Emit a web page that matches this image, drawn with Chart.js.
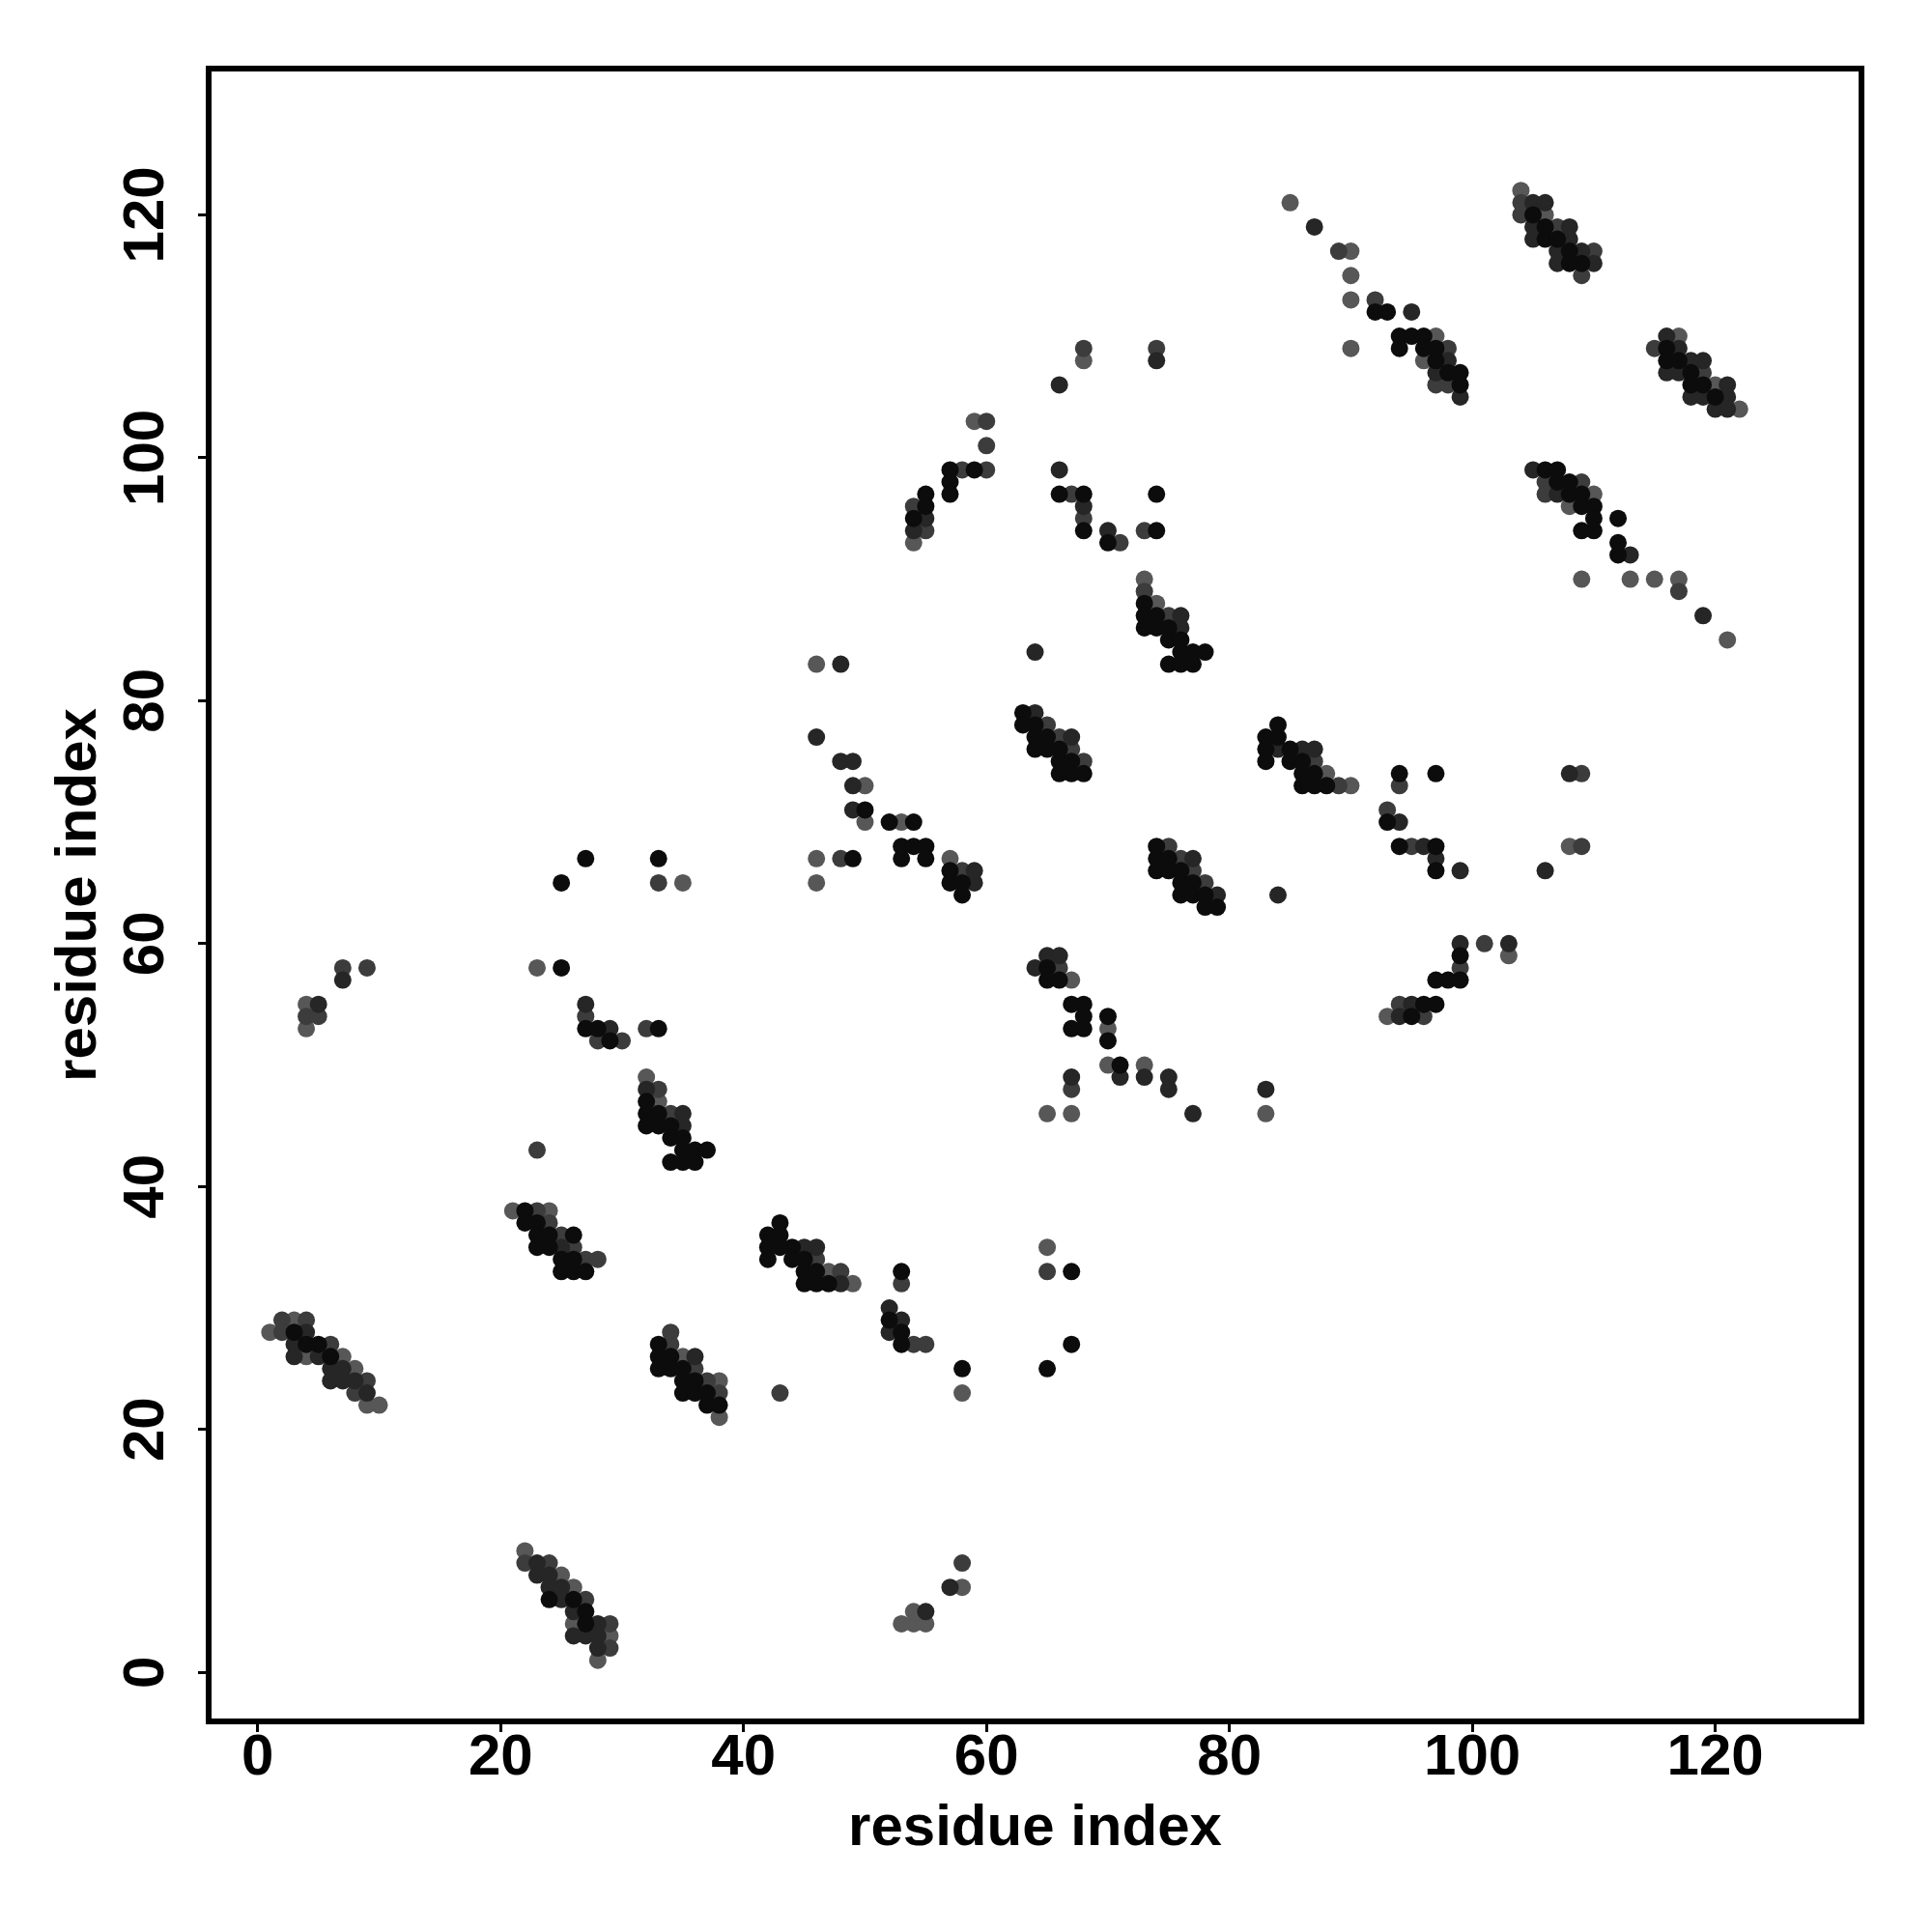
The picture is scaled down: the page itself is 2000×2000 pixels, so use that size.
<!DOCTYPE html>
<html>
<head>
<meta charset="utf-8">
<script src="https://cdn.jsdelivr.net/npm/chart.js@4.4.0/dist/chart.umd.min.js"></script>
<style>
  html, body { margin: 0; padding: 0; background: #fff; }
</style>
</head>
<body>
<canvas id="contactMap" width="2000" height="2000"></canvas>
<script>
// residue pairs [i, j] in contact, grouped by how dark the dot is
const blackPts = [
  [3,28],[4,27],[5,27],[6,26],
  [24,6],[26,6],[27,5],[27,4],
  [22,38],[22,37],[23,37],[23,36],[24,36],[26,36],[23,35],[24,35],[25,34],[26,34],[25,33],[26,33],[27,33],
  [32,47],[32,46],[33,46],[32,45],[33,45],[34,45],[34,44],[35,44],[35,43],[36,43],[37,43],[34,42],[35,42],[36,42],
  [25,58],[25,65],[27,67],[33,67],[27,53],[28,53],[29,52],[33,53],
  [43,37],[42,36],[43,36],[42,35],[43,35],[44,35],[42,34],[44,34],[45,34],[45,33],[46,33],[45,32],[46,32],[47,32],
  [52,29],[53,28],[53,27],[53,33],[58,25],[67,33],[67,27],[65,25],
  [33,27],[33,26],[34,26],[33,25],[34,25],[35,25],[35,24],[36,24],[35,23],[36,23],[37,23],[37,22],[38,22],
  [57,99],[59,99],[57,98],[57,97],[55,97],[55,96],[54,95],[50,71],[52,70],[54,70],[53,68],[54,68],[55,68],
  [53,67],[55,67],[57,66],[57,65],[58,65],[58,64],[49,67],
  [74,68],[74,67],[75,67],[74,66],[75,66],[76,66],[76,65],[77,65],[76,64],[77,64],[78,64],[78,63],[79,63],
  [65,58],[65,57],[66,57],[67,55],[68,55],[68,54],[67,53],[68,53],[70,54],[70,52],[71,50],
  [66,97],[68,97],[68,94],[70,93],[74,94],[74,97],
  [73,88],[73,87],[74,87],[73,86],[74,86],[75,86],[75,85],[76,85],[76,84],[77,84],[78,84],[75,83],[76,83],[77,83],
  [63,79],[63,78],[64,78],[64,77],[65,77],[64,76],[65,76],[66,76],[66,75],[67,75],[66,74],[67,74],[68,74],
  [84,78],[83,77],[84,77],[83,76],[85,76],[83,75],[85,75],[86,75],[86,74],[87,74],[86,73],[87,73],[88,73],
  [94,74],[93,70],[97,74],[94,68],[97,68],[97,66],
  [92,112],[93,112],[94,110],[95,110],[96,110],[94,109],[96,109],[97,109],[97,108],[98,107],[99,107],[99,106],
  [105,120],[106,119],[106,118],[107,118],[108,117],[108,116],[109,116],
  [116,109],[116,108],[117,108],[118,107],[118,106],[119,106],[120,105],
  [106,99],[107,99],[107,98],[108,98],[108,97],[109,97],[109,96],[110,96],[110,95],[112,95],[109,94],[110,94],
  [112,93],[112,92],
  [99,59],[97,57],[98,57],[99,57],[96,55],[97,55],[95,54]
];

const darkPts = [
  [4,28],[3,27],[3,26],[5,26],[6,25],[7,25],[6,24],[7,24],[8,24],[9,23],
  [23,9],[23,8],[24,8],[24,7],[25,7],[25,6],[26,5],[28,4],[26,3],[27,3],[28,3],[28,2],
  [25,35],[32,48],[35,46],[35,45],
  [5,55],[7,57],[27,55],[29,53],
  [45,35],[46,35],[48,32],[52,30],[53,29],[52,28],[36,26],[57,7],[55,5],
  [54,94],[55,95],[48,83],[46,77],[48,75],[49,75],[49,73],[49,71],[59,66],[59,65],
  [77,67],[79,64],[84,64],[64,58],[65,59],[66,59],[71,49],[73,49],[75,49],[75,48],[67,49],[77,46],[83,48],
  [66,99],[68,96],[70,94],[76,87],[76,86],[64,84],[64,79],[67,77],[84,76],[86,76],[87,76],[94,70],[96,68],
  [97,67],[99,66],[108,74],[106,66],
  [87,119],[95,112],[98,108],[97,107],[99,105],[74,108],[66,106],
  [105,121],[106,121],[105,119],[108,119],[105,118],[108,118],[107,117],[109,117],[107,116],[110,116],
  [116,110],[117,109],[118,108],[119,108],[116,107],[117,107],[121,106],[118,105],[119,105],[121,105],
  [120,104],[121,104],
  [105,99],[107,97],[113,92],[119,87],
  [99,60],[103,60],[95,55],[94,54]
];

const midPts = [
  [2,29],[4,29],[2,28],[6,27],[9,24],[8,23],
  [22,9],[24,9],[27,6],[29,4],[29,2],
  [23,38],[24,37],[25,36],[26,35],[27,34],[28,34],[33,48],[34,46],
  [4,54],[5,54],[7,58],[9,58],[33,65],[27,54],[28,52],[30,52],[32,53],[23,43],
  [46,34],[48,33],[54,27],[55,27],[53,32],[65,33],[34,28],[34,27],[36,25],[37,24],[38,23],[43,23],[58,9],
  [60,103],[60,101],[58,99],[60,99],[54,96],[55,94],[58,66],[48,67],
  [75,68],[76,67],[77,66],[78,65],[66,58],[67,48],
  [67,97],[68,95],[71,93],[73,94],[73,89],[75,87],[65,78],[66,77],[67,76],[68,75],[87,75],[89,73],[94,73],
  [93,71],[95,68],[109,74],[109,68],
  [89,117],[92,113],[98,109],[97,106],[98,106],[68,109],[74,109],
  [104,121],[104,120],[107,119],[110,117],[109,115],[115,109],[119,107],
  [106,98],[109,98],[106,97],[117,89],
  [101,60],[99,58],[94,55],[96,54]
];

const grayPts = [
  [1,28],[3,29],[4,26],[7,26],[8,25],[9,22],[10,22],
  [22,10],[25,8],[26,7],[26,4],[29,3],[28,1],
  [21,38],[24,38],[32,49],[33,47],
  [4,55],[4,53],[23,58],[35,65],
  [47,33],[49,32],[58,23],[65,35],[35,26],[38,24],[38,21],[58,7],[54,5],[53,4],[54,4],[55,4],
  [59,103],[54,93],[46,83],[50,73],[50,70],[53,70],[57,67],[46,67],[46,65],
  [67,57],[70,53],[70,50],[73,50],[65,46],[67,46],[83,46],
  [73,90],[74,88],[88,74],[90,73],[108,68],
  [85,121],[90,117],[90,115],[90,113],[90,109],[97,110],[96,108],[68,108],
  [104,122],[106,120],[117,110],[120,106],[122,104],
  [110,97],[108,96],[109,90],[113,90],[115,90],[117,90],[121,85],
  [103,59],[93,54]
];

const xTicks = [0, 20, 40, 60, 80, 100, 120];
const yTicks = [0, 20, 40, 60, 80, 100, 120];
const axisTitle = 'residue index';

const toXY = pts => pts.map(p => ({ x: p[0], y: p[1] }));

const labelFont = { family: 'Liberation Sans', size: 60, weight: 'bold', lineHeight: 1 };

function dotSet(pts, colour) {
  return {
    data: toXY(pts),
    backgroundColor: colour,
    borderWidth: 0,
    pointRadius: 9,
    pointHoverRadius: 9
  };
}

// white page + the heavy box round the plot
const framePlugin = {
  id: 'frame',
  beforeDraw(chart) {
    const ctx = chart.ctx;
    ctx.save();
    ctx.fillStyle = '#fff';
    ctx.fillRect(0, 0, chart.width, chart.height);
    ctx.restore();
  },
  afterDraw(chart) {
    const a = chart.chartArea;
    const ctx = chart.ctx;
    ctx.save();
    ctx.strokeStyle = '#000';
    ctx.lineWidth = 6;
    ctx.strokeRect(a.left, a.top, a.right - a.left, a.bottom - a.top);
    ctx.restore();
  }
};

new Chart(document.getElementById('contactMap'), {
  type: 'scatter',
  data: {
    datasets: [
      dotSet(blackPts, '#0c0c0c'),
      dotSet(darkPts, '#262626'),
      dotSet(midPts, '#3c3c3c'),
      dotSet(grayPts, '#575757')
    ]
  },
  options: {
    responsive: false,
    animation: false,
    devicePixelRatio: 1,
    layout: { padding: { left: 0, top: 71, right: 73, bottom: 0 } },
    plugins: { legend: { display: false }, tooltip: { enabled: false } },
    scales: {
      x: {
        type: 'linear',
        min: -4.04,
        max: 132.04,
        afterBuildTicks: s => { s.ticks = xTicks.map(v => ({ value: v })); },
        afterFit: s => { s.height = 218; },
        grid: { drawOnChartArea: false, drawTicks: true, tickLength: 11, tickWidth: 3, tickColor: '#000' },
        border: { display: false },
        ticks: { color: '#000', font: labelFont, padding: -3, maxRotation: 0, autoSkip: false },
        title: { display: true, text: axisTitle, color: '#000', font: labelFont, padding: { top: 0, bottom: 77 } }
      },
      y: {
        type: 'linear',
        min: -4.04,
        max: 132.04,
        afterBuildTicks: s => { s.ticks = yTicks.map(v => ({ value: v })); },
        afterFit: s => { s.width = 216; },
        grid: { drawOnChartArea: false, drawTicks: true, tickLength: 11, tickWidth: 3, tickColor: '#000' },
        border: { display: false },
        ticks: { color: '#000', font: labelFont, padding: 2, minRotation: 90, maxRotation: 90,
                 crossAlign: 'center', autoSkip: false },
        title: { display: true, text: axisTitle, color: '#000', font: labelFont, padding: { top: 52, bottom: 0 } }
      }
    }
  },
  plugins: [framePlugin]
});
</script>
</body>
</html>
